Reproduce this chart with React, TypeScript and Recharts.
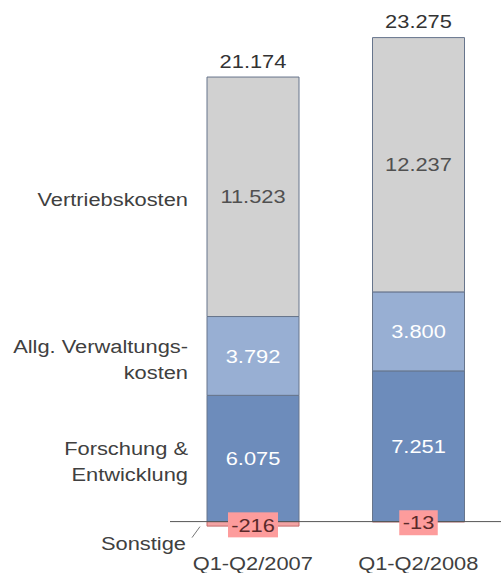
import { BarChart, Bar, XAxis, YAxis, LabelList, ReferenceLine } from "recharts";

const categories = ["Q1-Q2/2007", "Q1-Q2/2008"];
const sonstige = [-216, -13];
const forschung = [6075, 7251];
const verwaltung = [3792, 3800];
const vertrieb = [11523, 12237];
const totals = [21174, 23275];

const data = categories.map((name, i) => ({
  name,
  sonstige: sonstige[i],
  forschung: forschung[i],
  verwaltung: verwaltung[i],
  vertrieb: vertrieb[i],
  total: totals[i],
}));

const FONT = "'Liberation Sans', Arial, sans-serif";
const STRETCH = 1.15;
const OUTLINE = "#67758c";

// german thousands separator
const fmt = (v: number) => {
  const s = Math.abs(v).toString().replace(/\B(?=(\d{3})+(?!\d))/g, ".");
  return v < 0 ? "-" + s : s;
};

function Txt({ x, y, anchor = "middle", fill = "#404040", children }: any) {
  return (
    <text
      transform={`translate(${x},${y}) scale(${STRETCH},1)`}
      textAnchor={anchor}
      fill={fill}
      fontSize={19}
      fontFamily={FONT}
      dy="0.35em"
    >
      {children}
    </text>
  );
}

const segLabel = (lines: string[], color: string) => (p: any) => {
  const x = Number(p.x);
  const y = Number(p.y);
  const width = Number(p.width);
  const height = Number(p.height);
  const top = Math.min(y, y + height);
  const cy = top + Math.abs(height) / 2;
  return (
    <g>
      <Txt x={x + width / 2} y={cy} fill={color}>
        {fmt(Number(p.value))}
      </Txt>
      {p.index === 0 &&
        lines.map((l, i) => (
          <Txt key={i} x={x - 19} y={cy + 3 + (i - (lines.length - 1) / 2) * 26} anchor="end">
            {l}
          </Txt>
        ))}
    </g>
  );
};

const sonstigeLabel = (p: any) => {
  const x = Number(p.x);
  const y = Number(p.y);
  const width = Number(p.width);
  const height = Number(p.height);
  const top = Math.min(y, y + height);
  const cy = top + Math.abs(height) / 2 + 1;
  const txt = fmt(Number(p.value));
  const w = txt.length * 11.5 + 4;
  const cx = x + width / 2;
  return (
    <g>
      <rect x={cx - w / 2} y={cy - 12.5} width={w} height={25} fill="#fd9c9c" />
      <Txt x={cx} y={cy} fill="#5a2a2a">
        {txt}
      </Txt>
      {p.index === 0 && (
        <g>
          <line x1={x - 15} y1={top + 16} x2={x - 7} y2={top + 5} stroke="#777" strokeWidth={1} />
          <Txt x={x - 21} y={top + 22} anchor="end">
            Sonstige
          </Txt>
        </g>
      )}
    </g>
  );
};

const totalLabel = (p: any) => {
  const x = Number(p.x);
  const y = Number(p.y);
  const width = Number(p.width);
  return (
    <Txt x={x + width / 2} y={y - 16} fill="#333">
      {fmt(Number(p.value))}
    </Txt>
  );
};

const tick = (p: any) => (
  <Txt x={p.x} y={p.y + 23} fill="#404040">
    {p.payload.value}
  </Txt>
);

export default function App() {
  return (
    <div style={{ position: "absolute", left: 0, top: 0, width: 501, height: 573, background: "#fff" }}>
      <BarChart
        width={501}
        height={573}
        data={data}
        stackOffset="sign"
        barSize={92}
        margin={{ top: 2, right: 0, left: 170, bottom: 0 }}
      >
        <XAxis dataKey="name" axisLine={false} tickLine={false} height={41} tick={tick} />
        <YAxis hide domain={[-500, 25000]} allowDataOverflow />
        <Bar dataKey="sonstige" stackId="a" fill="#f3a3a3" stroke="#c46a6a" isAnimationActive={false}>
          <LabelList dataKey="sonstige" content={sonstigeLabel} />
        </Bar>
        <Bar dataKey="forschung" stackId="a" fill="#6d8cbb" stroke={OUTLINE} isAnimationActive={false}>
          <LabelList dataKey="forschung" content={segLabel(["Forschung &", "Entwicklung"], "#ffffff")} />
        </Bar>
        <Bar dataKey="verwaltung" stackId="a" fill="#98afd3" stroke={OUTLINE} isAnimationActive={false}>
          <LabelList dataKey="verwaltung" content={segLabel(["Allg. Verwaltungs-", "kosten"], "#ffffff")} />
        </Bar>
        <Bar dataKey="vertrieb" stackId="a" fill="#d1d1d1" stroke={OUTLINE} isAnimationActive={false}>
          <LabelList dataKey="vertrieb" content={segLabel(["Vertriebskosten"], "#505050")} />
          <LabelList dataKey="total" content={totalLabel} />
        </Bar>
        <ReferenceLine y={0} stroke="#555" strokeWidth={1} />
      </BarChart>
    </div>
  );
}
